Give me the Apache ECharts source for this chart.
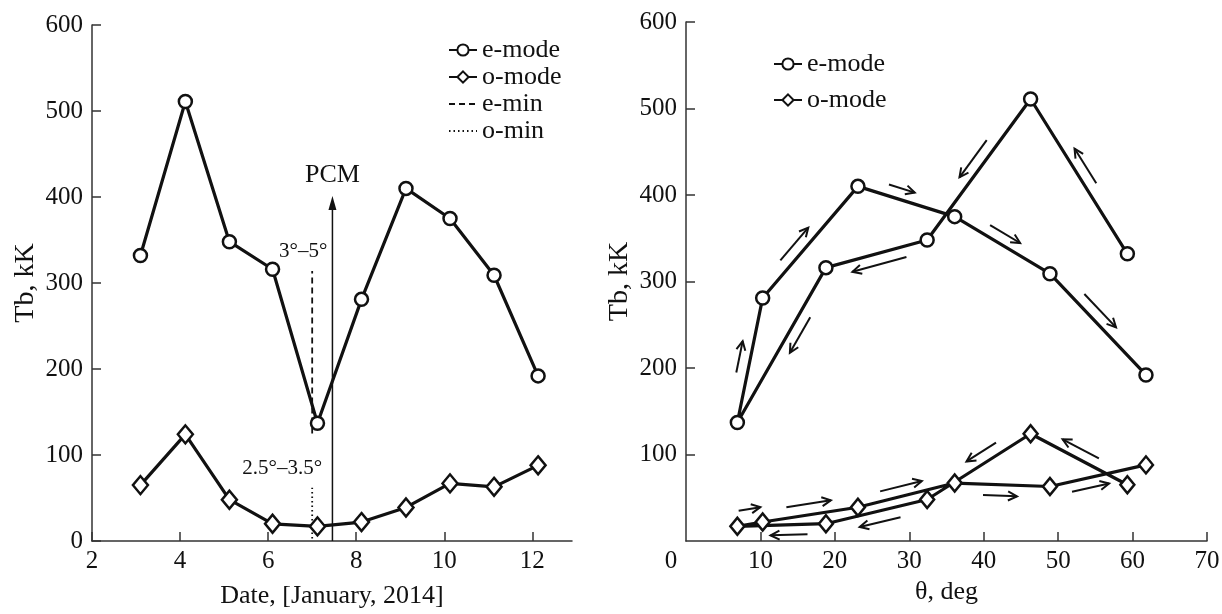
<!DOCTYPE html>
<html>
<head>
<meta charset="utf-8">
<script src="https://cdn.jsdelivr.net/npm/echarts@6/dist/echarts.min.js"></script>
<style>
  html, body { margin: 0; padding: 0; background: #fff; }
  #chart { width: 1222px; height: 614px; }
</style>
</head>
<body>
<div id="chart"></div>
<script>
// data
const dates = [3.1, 4.12, 5.12, 6.1, 7.12, 8.12, 9.13, 10.13, 11.13, 12.13]
const eModeTb = [332, 511, 348, 316, 137, 281, 410, 375, 309, 192]
const oModeTb = [65, 124, 48, 20, 17, 22, 39, 67, 63, 88]
const thetaDeg = [59.3, 46.3, 32.4, 18.8, 6.9, 10.3, 23.1, 36.1, 48.9, 61.8]
const minDate = 7.0
const eMinRange = [125, 314]
const oMinRange = [3, 62]
const pcmDate = 7.46
const pcmTop = 393

const leftXTicks = [2, 4, 6, 8, 10, 12]
const leftYTicks = [0, 100, 200, 300, 400, 500, 600]
const rightXTicks = [0, 10, 20, 30, 40, 50, 60, 70]
const rightYTicks = [100, 200, 300, 400, 500, 600]

// arrows along the right-hand curves (side of segment, length, position, offset)
const eArrowSide = [1, 1, -1, -1, -1, -1, -1, -1, -1]
const eArrowLen = [41, 46, 56, 41, 32, 43, 27, 35, 46]
const eArrowPos = [0.53, 0.47, 0.5, 0.4, 0.51, 0.42, 0.42, 0.47, 0.44]
const oArrowSide = [1, 1, -1, -1, -1, -1, -1, 1, 1]
const oArrowLen = [41, 35, 42, 37, 22, 45, 43, 34, 38]
const oArrowPos = [0.53, 0.42, 0.49, 0.42, 0.58, 0.5, 0.47, 0.48, 0.4]
const oArrowOff = [10, 11, 11, 10, 15, 11, 10, 11, 10]

const ink = '#111'
const axisColor = '#333'
const font = 'Liberation Serif'

function zip (xs, ys) {
  return xs.map((x, i) => [x, ys[i]])
}

function axisCommon (name, gap, size) {
  return {
    type: 'value',
    name: name,
    nameLocation: 'middle',
    nameGap: gap,
    nameTextStyle: { fontSize: size, color: ink, fontFamily: font },
    axisLine: { show: true, lineStyle: { color: axisColor, width: 1.5 } },
    splitLine: { show: false }
  }
}

function modeSeries (name, xs, ys, symbol, size, xi) {
  return {
    name: name,
    type: 'line',
    xAxisIndex: xi,
    yAxisIndex: xi,
    data: zip(xs, ys),
    symbol: symbol,
    symbolSize: size,
    showSymbol: true,
    z: 5,
    itemStyle: { color: '#fff', borderColor: ink, borderWidth: 2.5 },
    lineStyle: { color: ink, width: 3.2 }
  }
}

// vertical guide line, label sits on an invisible markPoint at the top
function guideSeries (name, x, range, dash, text, shift) {
  return {
    name: name,
    type: 'line',
    xAxisIndex: 0,
    yAxisIndex: 0,
    symbol: 'circle',
    showSymbol: false,
    z: 2,
    lineStyle: { color: ink, width: 1.8, type: dash },
    // transparent so the legend icon shows only the line
    itemStyle: { color: 'rgba(0,0,0,0)', borderWidth: 0 },
    data: [[x, range[0]], [x, range[1]]],
    markPoint: {
      silent: true,
      symbol: 'circle',
      symbolSize: 0,
      data: [{
        coord: [x, range[1]],
        label: { show: true, position: 'top', distance: 9, offset: [shift, 0], formatter: text, fontSize: 21, color: ink, fontFamily: font }
      }]
    }
  }
}

function arrowSeries (name, xs, ys, sides, lens, pos, offs) {
  const segs = xs.slice(0, -1).map((x, i) => [x, ys[i], xs[i + 1], ys[i + 1]])
  return {
    name: name,
    type: 'custom',
    xAxisIndex: 1,
    yAxisIndex: 1,
    silent: true,
    z: 3,
    dimensions: ['x1', 'y1', 'x2', 'y2'],
    encode: { x: [0, 2], y: [1, 3] },
    data: segs,
    renderItem: function (params, api) {
      const i = params.dataIndex
      const p1 = api.coord([api.value(0), api.value(1)])
      const p2 = api.coord([api.value(2), api.value(3)])
      const dx = p2[0] - p1[0]
      const dy = p2[1] - p1[1]
      const L = Math.hypot(dx, dy)
      const ux = dx / L
      const uy = dy / L
      const nx = -uy
      const ny = ux
      const off = (offs ? offs[i] : 11) * sides[i]
      const len = lens[i]
      const cx = p1[0] + dx * pos[i] + nx * off
      const cy = p1[1] + dy * pos[i] + ny * off
      const ax = cx - ux * len / 2
      const ay = cy - uy * len / 2
      const bx = cx + ux * len / 2
      const by = cy + uy * len / 2
      const h = 9
      const w = 4.5
      const st = { stroke: ink, lineWidth: 2, fill: null }
      return {
        type: 'group',
        children: [
          { type: 'line', shape: { x1: ax, y1: ay, x2: bx, y2: by }, style: st },
          {
            type: 'polyline',
            shape: {
              points: [
                [bx - ux * h + nx * w, by - uy * h + ny * w],
                [bx, by],
                [bx - ux * h - nx * w, by - uy * h - ny * w]
              ]
            },
            style: st
          }
        ]
      }
    }
  }
}

const chart = echarts.init(document.getElementById('chart'))

const legendText = { fontSize: 26, color: ink, fontFamily: font, lineHeight: 26 }

chart.setOption({
  animation: false,
  backgroundColor: '#fff',
  textStyle: { fontFamily: font, color: ink },
  legend: [
    {
      data: ['e-mode', 'o-mode', 'e-min', 'o-min'],
      orient: 'vertical',
      left: 443,
      top: 32,
      itemWidth: 28,
      itemHeight: 14,
      itemGap: 1,
      selectedMode: false,
      textStyle: legendText
    },
    {
      data: ['e-mode', 'o-mode'],
      orient: 'vertical',
      left: 768,
      top: 46,
      itemWidth: 28,
      itemHeight: 14,
      itemGap: 10,
      selectedMode: false,
      textStyle: legendText
    }
  ],
  grid: [
    { left: 92, right: 650, top: 25, bottom: 73, outerBoundsMode: 'none' },
    { left: 686, right: 15, top: 22, bottom: 73, outerBoundsMode: 'none' }
  ],
  xAxis: [
    Object.assign(axisCommon('Date, [January, 2014]', 42, 26), {
      gridIndex: 0,
      min: 2,
      max: 12.9,
      axisTick: { show: true, inside: true, length: 9, customValues: leftXTicks, lineStyle: { color: axisColor, width: 1.5 } },
      axisLabel: { customValues: leftXTicks, fontSize: 25, color: ink, margin: 8, fontFamily: font }
    }),
    Object.assign(axisCommon('θ, deg', 28, 26), {
      gridIndex: 1,
      min: 0,
      max: 70,
      interval: 10,
      axisTick: { show: true, inside: true, length: 9, customValues: rightXTicks.slice(1), lineStyle: { color: axisColor, width: 1.5 } },
      axisLabel: {
        customValues: rightXTicks,
        fontSize: 25,
        color: ink,
        margin: 8,
        fontFamily: font,
        formatter: function (v) { return v === 0 ? '{z|0}' : String(v) },
        rich: { z: { fontSize: 25, fontFamily: font, color: ink, padding: [0, 30, 0, 0] } }
      }
    })
  ],
  yAxis: [
    Object.assign(axisCommon('Tb, kK', 52, 28), {
      gridIndex: 0,
      min: 0,
      max: 600,
      interval: 100,
      axisTick: { show: true, inside: true, length: 9, customValues: leftYTicks, lineStyle: { color: axisColor, width: 1.5 } },
      axisLabel: { customValues: leftYTicks, fontSize: 25, color: ink, margin: 9, fontFamily: font }
    }),
    Object.assign(axisCommon('Tb, kK', 52, 28), {
      gridIndex: 1,
      min: 0,
      max: 600,
      interval: 100,
      axisTick: { show: true, inside: true, length: 9, customValues: rightYTicks, lineStyle: { color: axisColor, width: 1.5 } },
      axisLabel: { customValues: rightYTicks, fontSize: 25, color: ink, margin: 9, fontFamily: font }
    })
  ],
  series: [
    modeSeries('e-mode', dates, eModeTb, 'circle', 13, 0),
    modeSeries('o-mode', dates, oModeTb, 'diamond', [15, 18], 0),
    guideSeries('e-min', minDate, eMinRange, [6, 4], '3°–5°', -9),
    guideSeries('o-min', minDate, oMinRange, [1.5, 3], '2.5°–3.5°', -30),
    {
      name: 'PCM',
      type: 'line',
      xAxisIndex: 0,
      yAxisIndex: 0,
      symbol: 'none',
      z: 2,
      lineStyle: { color: ink, width: 1.5 },
      itemStyle: { color: ink },
      data: [
        [pcmDate, 0],
        {
          value: [pcmDate, pcmTop],
          symbol: 'triangle',
          symbolSize: [8, 14],
          label: { show: true, position: 'top', distance: 8, formatter: 'PCM', fontSize: 26, color: ink, fontFamily: font }
        }
      ]
    },
    modeSeries('e-mode', thetaDeg, eModeTb, 'circle', 13, 1),
    modeSeries('o-mode', thetaDeg, oModeTb, 'diamond', [14, 17], 1),
    arrowSeries('e-arrows', thetaDeg, eModeTb, eArrowSide, eArrowLen, eArrowPos, null),
    arrowSeries('o-arrows', thetaDeg, oModeTb, oArrowSide, oArrowLen, oArrowPos, oArrowOff)
  ]
})
</script>
</body>
</html>
